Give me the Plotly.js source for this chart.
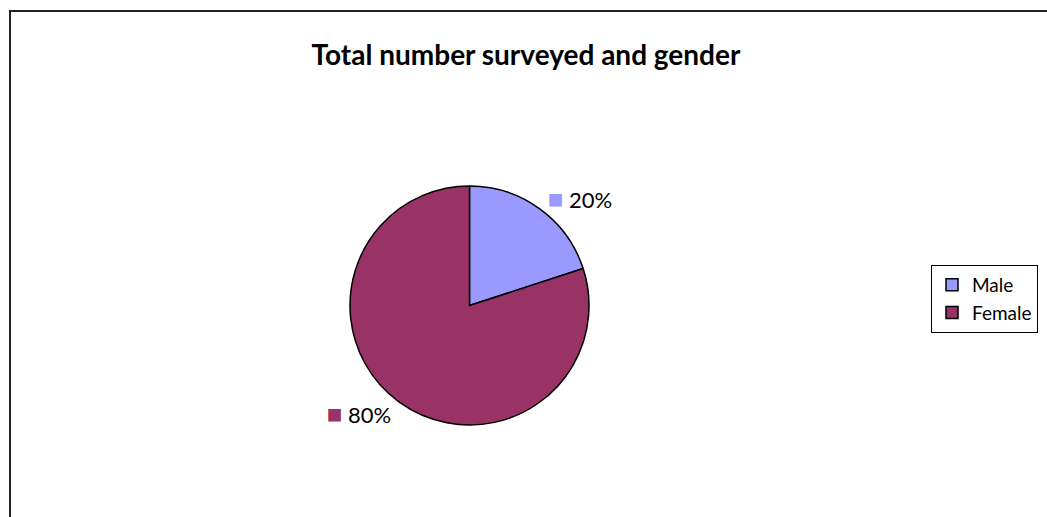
<!DOCTYPE html>
<html>
<head>
<meta charset="utf-8">
<script src="https://cdn.plot.ly/plotly-3.0.1.min.js"></script>
<style>html,body{margin:0;padding:0;background:#fff;}#chart{width:1047px;height:517px;}</style>
</head>
<body>
<div id="chart"></div>
<script>
const categories = ["Male", "Female"];
const values = [20, 80];
const colors = ["#9999FF", "#993366"];
const chartTitle = "Total number surveyed and gender";

const W = 1047, H = 517;
const px = x => x / W;
const py = y => 1 - y / H;

const labelTexts = categories.map((c, i) =>
  "<span style='color:" + colors[i] + ";font-size:26px'>■</span> %{percent:.0%}");

const trace = {
  type: "pie",
  labels: categories,
  values: values,
  sort: false,
  direction: "clockwise",
  rotation: 0,
  marker: { colors: colors, line: { color: "#000000", width: 1.5 } },
  texttemplate: labelTexts,
  textposition: "outside",
  textfont: { family: "Lato, 'Open Sans', sans-serif", size: 22, color: "#000000" },
  hoverinfo: "label+percent",
  domain: { x: [px(350), px(589)], y: [py(425), py(186)] },
  automargin: false
};

const layout = {
  width: W, height: H,
  margin: { l: 0, r: 0, t: 0, b: 0 },
  paper_bgcolor: "#ffffff",
  title: {
    text: "<b>" + chartTitle + "</b>",
    font: { family: "Lato, 'Open Sans', sans-serif", size: 28, color: "#000000" },
    x: px(526), xanchor: "center",
    y: py(55), yanchor: "middle", xref: "paper", yref: "paper"
  },
  showlegend: true,
  legend: {
    x: px(931), xanchor: "left",
    y: py(265), yanchor: "top",
    bordercolor: "#000000", borderwidth: 1,
    bgcolor: "#ffffff",
    font: { family: "Lato, 'Open Sans', sans-serif", size: 19, color: "#000000" },
    traceorder: "normal",
    itemwidth: 30
  },
  shapes: [{
    type: "rect", xref: "paper", yref: "paper",
    x0: px(10), x1: 1.02, y0: -0.02, y1: py(11),
    line: { color: "#222222", width: 2 }, fillcolor: "rgba(0,0,0,0)", layer: "below"
  }]
};

Plotly.newPlot("chart", [trace], layout, { displayModeBar: false, staticPlot: true });
</script>
</body>
</html>
